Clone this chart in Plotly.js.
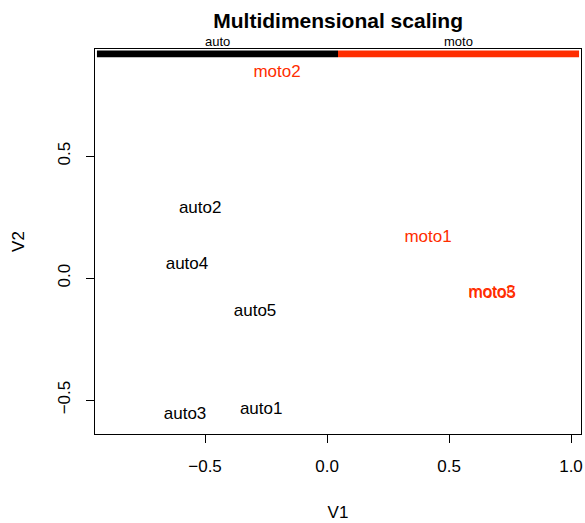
<!DOCTYPE html>
<html>
<head>
<meta charset="utf-8">
<script src="https://cdn.plot.ly/plotly-3.0.1.min.js"></script>
<style>html,body{margin:0;padding:0;background:#fff;}#chart{width:585px;height:523px;}</style>
</head>
<body>
<div id="chart"></div>
<script>
// Data
const labels = ['auto1','auto2','auto3','auto4','auto5','moto1','moto2','moto3','moto5'];
const groupOf = ['auto','auto','auto','auto','auto','moto','moto','moto','moto'];
const v1 = [-0.270, -0.520, -0.582, -0.574, -0.295, 0.414, -0.205, 0.676, 0.678];
const v2 = [-0.541, 0.283, -0.561, 0.053, -0.139, 0.164, 0.840, -0.062, -0.064];
const groups = ['auto','moto'];
const groupColors = ['#000000','#FF2D00'];
const groupStart = [-0.943, 0.045];
const groupEnd = [0.045, 1.033];

const FONT = 'Liberation Sans, Arial, Helvetica, sans-serif';

const trace = {
  x: v1, y: v2, text: labels, mode: 'text', type: 'scatter',
  textposition: 'middle center',
  textfont: {family: FONT, size: 17, color: groupOf.map(g => groupColors[groups.indexOf(g)])},
  hoverinfo: 'text', showlegend: false
};

const shapes = groups.map((g, i) => ({
  type: 'rect', xref: 'x', yref: 'y',
  x0: groupStart[i], x1: groupEnd[i], y0: 0.905, y1: 0.933,
  fillcolor: groupColors[i], line: {width: 0}
}));

const annotations = groups.map((g, i) => ({
  text: g, xref: 'x', yref: 'paper', x: (groupStart[i] + groupEnd[i]) / 2, y: 1,
  yanchor: 'bottom', yshift: -2, showarrow: false,
  font: {family: FONT, size: 13, color: '#000'}
}));

const layout = {
  width: 585, height: 523,
  margin: {l: 95, r: 4, t: 49, b: 89},
  paper_bgcolor: '#fff', plot_bgcolor: '#fff',
  title: {text: '<b>Multidimensional scaling</b>', font: {family: FONT, size: 21, color: '#000'},
          x: 0.578, xanchor: 'center', y: 0.961, yanchor: 'middle'},
  xaxis: {
    range: [-0.951, 1.041], tickvals: [-0.5, 0, 0.5, 1.0], ticktext: ['\u22120.5','0.0','0.5','1.0'],
    showgrid: false, zeroline: false, showline: true, mirror: true, linecolor: '#000', linewidth: 1,
    ticks: 'outside', ticklen: 8, tickcolor: '#000', ticklabelstandoff: 9,
    tickfont: {family: FONT, size: 17, color: '#000'},
    title: {text: 'V1', font: {family: FONT, size: 17, color: '#000'}, standoff: 30}
  },
  yaxis: {
    range: [-0.639, 0.939], tickvals: [-0.5, 0, 0.5], ticktext: ['\u22120.5','0.0','0.5'],
    tickangle: -90,
    showgrid: false, zeroline: false, showline: true, mirror: true, linecolor: '#000', linewidth: 1,
    ticks: 'outside', ticklen: 8, tickcolor: '#000', ticklabelstandoff: 9,
    tickfont: {family: FONT, size: 17, color: '#000'},
    title: {text: 'V2', font: {family: FONT, size: 17, color: '#000'}, standoff: 26}
  },
  shapes: shapes,
  annotations: annotations
};

Plotly.newPlot('chart', [trace], layout, {displayModeBar: false, staticPlot: true});
</script>
</body>
</html>
